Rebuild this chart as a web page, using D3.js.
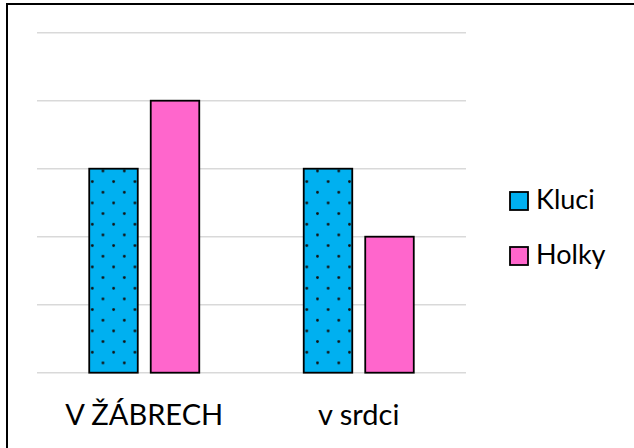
<!DOCTYPE html>
<html>
<head>
<meta charset="utf-8">
<script src="https://cdn.jsdelivr.net/npm/d3@7"></script>
<style>
  html, body { margin: 0; padding: 0; background: #fff; }
  svg { display: block; font-family: Lato, "Open Sans", sans-serif; }
</style>
</head>
<body>
<svg id="chart"></svg>
<script>
const categories = ['V ŽÁBRECH', 'v srdci'];
const seriesNames = ['Kluci', 'Holky'];
const kluci = [3, 3];
const holky = [4, 2];
const yTicks = [0, 1, 2, 3, 4, 5];

const width = 634;
const height = 448;
const plot = { left: 37, right: 466, top: 32.7, bottom: 372.7 };

const blue = '#00b0f0';
const pink = '#ff66cc';
const gridColor = '#d9d9d9';

const svg = d3.select('#chart')
    .attr('width', width)
    .attr('height', height);

// dotted fill for the Kluci bars
const defs = svg.append('defs');
const pattern = defs.append('pattern')
    .attr('id', 'dots')
    .attr('patternUnits', 'userSpaceOnUse')
    .attr('x', 8.4)
    .attr('y', -5)
    .attr('width', 21.33)
    .attr('height', 21.33);
pattern.append('rect')
    .attr('width', 21.33)
    .attr('height', 21.33)
    .attr('fill', blue);
pattern.selectAll('circle')
    .data([[5.33, 5.33], [16, 16]])
    .enter()
    .append('circle')
    .attr('cx', (d) => d[0])
    .attr('cy', (d) => d[1])
    .attr('r', 1.4)
    .attr('fill', '#111');

// outer frame (cut off on the right and bottom)
svg.append('rect')
    .attr('x', 7)
    .attr('y', 4)
    .attr('width', width + 20)
    .attr('height', height + 20)
    .attr('fill', 'none')
    .attr('stroke', '#000')
    .attr('stroke-width', 2);

const x0 = d3.scaleBand()
    .domain(categories)
    .range([plot.left, plot.right])
    .paddingInner(0.487)
    .paddingOuter(0.2435);

const x1 = d3.scaleBand()
    .domain(seriesNames)
    .range([0, x0.bandwidth()])
    .paddingInner(0.211);

const y = d3.scaleLinear()
    .domain([0, 5])
    .range([plot.bottom, plot.top]);

svg.append('g')
    .attr('class', 'grid')
    .selectAll('line')
    .data(yTicks)
    .enter()
    .append('line')
    .attr('x1', plot.left)
    .attr('x2', plot.right)
    .attr('y1', (d) => y(d))
    .attr('y2', (d) => y(d))
    .attr('stroke', gridColor)
    .attr('stroke-width', 1.5);

const rows = categories.map((c, i) => ({
    category: c,
    values: [
        { name: 'Kluci', value: kluci[i], fill: 'url(#dots)' },
        { name: 'Holky', value: holky[i], fill: pink },
    ],
}));

svg.append('g')
    .attr('class', 'bars')
    .selectAll('g')
    .data(rows)
    .enter()
    .append('g')
    .attr('transform', (d) => `translate(${x0(d.category)}, 0)`)
    .selectAll('rect')
    .data((d) => d.values)
    .enter()
    .append('rect')
    .attr('x', (d) => x1(d.name))
    .attr('y', (d) => y(d.value))
    .attr('width', x1.bandwidth())
    .attr('height', (d) => y(0) - y(d.value))
    .attr('fill', (d) => d.fill)
    .attr('stroke', '#000')
    .attr('stroke-width', 1.8);

svg.append('g')
    .attr('class', 'x-labels')
    .selectAll('text')
    .data(categories)
    .enter()
    .append('text')
    .attr('x', (d) => x0(d) + x0.bandwidth() / 2)
    .attr('y', 425)
    .attr('text-anchor', 'middle')
    .style('font-size', '29px')
    .style('fill', '#000')
    .text((d) => d);

const legend = svg.append('g')
    .attr('class', 'legend')
    .selectAll('g')
    .data(seriesNames)
    .enter()
    .append('g')
    .attr('transform', (d, i) => `translate(510, ${192 + i * 55})`);

legend.append('rect')
    .attr('width', 18)
    .attr('height', 18)
    .attr('fill', (d, i) => (i === 0 ? blue : pink))
    .attr('stroke', '#000')
    .attr('stroke-width', 1.8);

legend.append('text')
    .attr('x', 26)
    .attr('y', 17)
    .style('font-size', '27px')
    .style('fill', '#000')
    .text((d) => d);
</script>
</body>
</html>
